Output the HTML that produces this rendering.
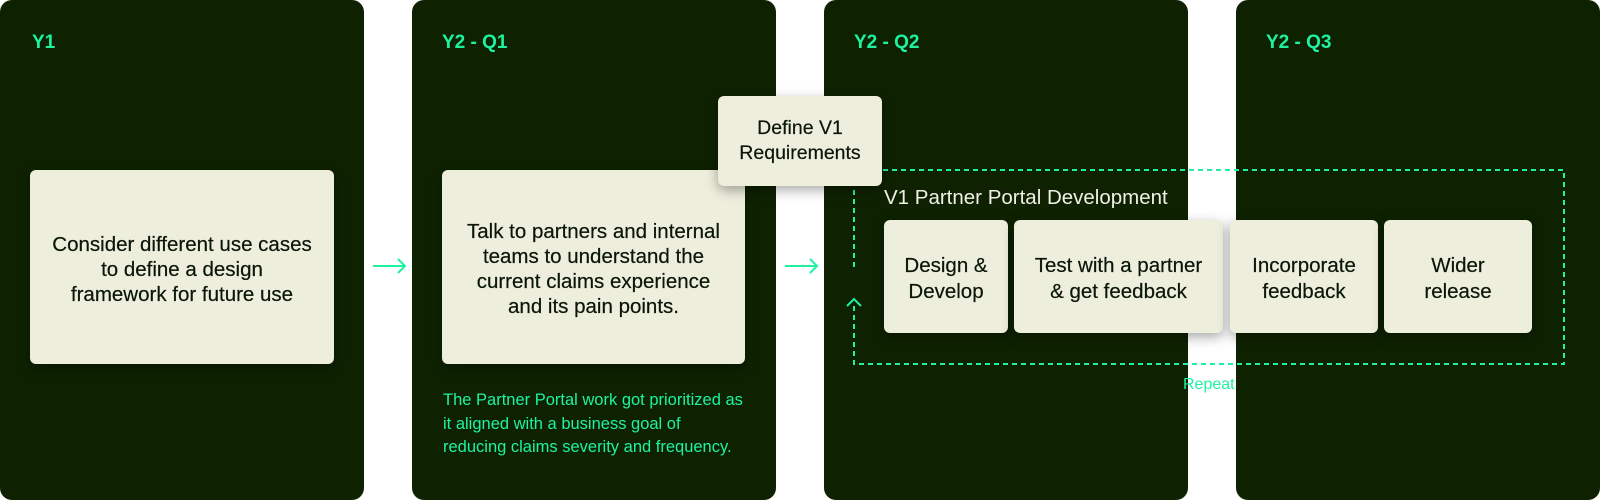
<!DOCTYPE html>
<html><head><meta charset="utf-8"><style>
*{margin:0;padding:0;box-sizing:border-box}
body{width:1600px;height:500px;background:#fff;position:relative;overflow:hidden;font-family:"Liberation Sans",sans-serif}
.p{position:absolute;top:0;height:500px;width:364px;background:#0e2202;border-radius:12px}
.h{position:absolute;top:32px;font-weight:bold;font-size:19px;color:#1ef2a0}
.b{position:absolute;background:#eeeedd;border-radius:6px;color:#0a1608;display:flex;align-items:center;justify-content:center;text-align:center;font-size:20.5px;line-height:25px;box-shadow:0 4px 12px rgba(0,0,0,0.35);-webkit-text-stroke:0.2px #0a1608}
.s{font-size:20.5px;line-height:25.5px;padding-top:4px}
.g{position:absolute;color:#1ef2a0}
</style></head><body>
<div class="p" style="left:0"></div>
<div class="p" style="left:412px"></div>
<div class="p" style="left:824px"></div>
<div class="p" style="left:1236px"></div>
<div class="h" style="left:32px">Y1</div>
<div class="h" style="left:442px">Y2 - Q1</div>
<div class="h" style="left:854px">Y2 - Q2</div>
<div class="h" style="left:1266px">Y2 - Q3</div>

<div class="b" style="left:30px;top:170px;width:304px;height:194px;padding-top:4px">Consider different use cases<br>to define a design<br>framework for future use</div>
<div class="b" style="left:442px;top:170px;width:303px;height:194px;padding-top:3px">Talk to partners and internal<br>teams to understand the<br>current claims experience<br>and its pain points.</div>
<div class="g" style="left:443px;top:389px;font-size:16.5px;line-height:23.5px">The Partner Portal work got prioritized as<br>it aligned with a business goal of<br>reducing claims severity and frequency.</div>

<svg style="position:absolute;left:0;top:0" width="1600" height="500">
<g stroke="#1ef2a0" stroke-width="2" fill="none">
<path d="M373 266H405M398 259L405 266L398 273"/>
<path d="M785 266H817M810 259L817 266L810 273"/>
<path d="M854 267V170H1564V364H854V302" stroke-dasharray="5,4"/>
<path d="M847 306L854 299L861 306"/>
</g>
</svg>

<div class="b" style="left:718px;top:96px;width:164px;height:90px;font-size:19.5px">Define V1<br>Requirements</div>
<div style="position:absolute;left:884px;top:186px;font-size:20.5px;color:#f0f0e6">V1 Partner Portal Development</div>
<div class="b s" style="left:884px;top:220px;width:124px;height:113px">Design &amp;<br>Develop</div>
<div class="b s" style="left:1014px;top:220px;width:209px;height:113px">Test with a partner<br>&amp; get feedback</div>
<div class="b s" style="left:1230px;top:220px;width:148px;height:113px">Incorporate<br>feedback</div>
<div class="b s" style="left:1384px;top:220px;width:148px;height:113px">Wider<br>release</div>
<div class="g" style="left:1183px;top:376px;font-size:16px">Repeat</div>
</body></html>
